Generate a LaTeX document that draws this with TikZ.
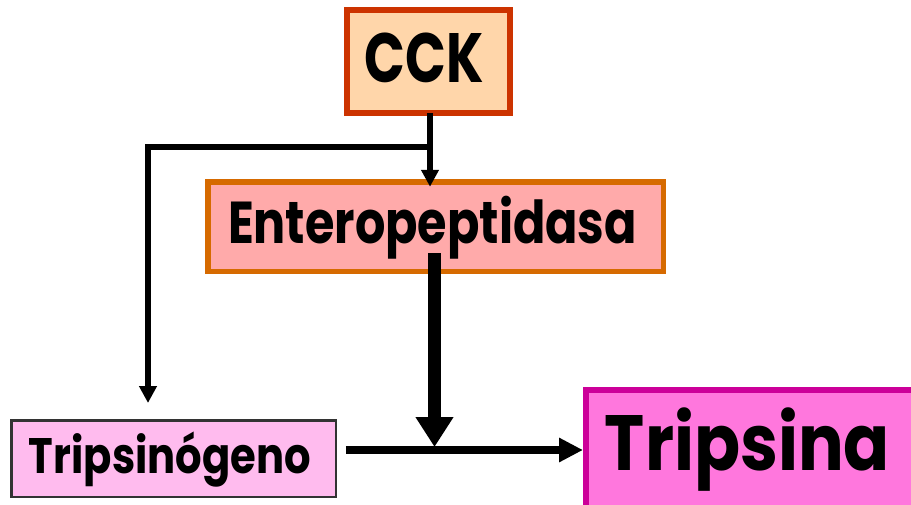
\documentclass[tikz,border=0pt]{standalone}
\usepackage{fontspec}
\usepackage{graphicx}
\usetikzlibrary{arrows.meta,calc}
\setmainfont{Poppins}

% Scale a label so that its ink width and cap height hit given sizes
\newcommand\fittext[3]{\resizebox{#1}{#2}{\smash{#3}\vphantom{T}}}

\definecolor{cckline}{HTML}{CC3300}
\definecolor{cckfill}{HTML}{FFD6AA}
\definecolor{entline}{HTML}{D66A00}
\definecolor{entfill}{HTML}{FFAAAA}
\definecolor{tsgline}{HTML}{333333}
\definecolor{tsgfill}{HTML}{FFBBEE}
\definecolor{tpsline}{HTML}{CC0099}
\definecolor{tpsfill}{HTML}{FF77DD}

\tikzset{
  box/.style={rectangle, inner sep=0pt, outer sep=0pt},
  label/.style={inner sep=0pt, outer sep=0pt, anchor=base, font=\bfseries},
  thinarrow/.style={line width=6pt, -{Triangle[length=17pt, width=17pt]}},
  mainarrow/.style={line width=12.5pt, -{Triangle[length=30pt, width=36pt]}},
  sidearrow/.style={line width=7.5pt, -{Triangle[length=24pt, width=23pt]}},
}

\begin{document}
\begin{tikzpicture}[x=1pt, y=-1pt]
  \useasboundingbox (0,0) rectangle (911,504);
  \clip (0,0) rectangle (911,504);

  % boxes
  \node[box, draw=cckline, fill=cckfill, line width=6pt,
        minimum width=163pt, minimum height=103pt] (cck) at (428.5,61.5) {};
  \node[box, draw=entline, fill=entfill, line width=5.5pt,
        minimum width=455.5pt, minimum height=89.5pt] (ent) at (435.5,226.5) {};
  \node[box, draw=tsgline, fill=tsgfill, line width=2.5pt,
        minimum width=324.5pt, minimum height=76.5pt] (tsg) at (173.5,458.5) {};
  \node[box, draw=tpsline, fill=tpsfill, line width=6pt,
        minimum width=329pt, minimum height=120pt] (tps) at (750.5,450) {};

  % labels
  \node[label] (cck-text) at (424.5,82) {\fittext{119pt}{49pt}{CCK}};
  \node[label] (ent-text) at (432.5,243) {\fittext{409pt}{41.5pt}{Enteropeptidasa}};
  \node[label] (tsg-text) at (170,473) {\fittext{282pt}{35pt}{Tripsinógeno}};
  \node[label] (tps-text) at (747.5,470) {\fittext{285pt}{55pt}{Tripsina}};

  % routing points
  \coordinate (fork) at (430,147);
  \coordinate (tsg-in) at (148,403);
  \coordinate (join) at (434.5,450);

  % CCK acts on the enzyme and on the zymogen
  \draw[thinarrow] (cck.south -| fork) -- ($(ent.north -| fork)+(0,5)$);
  \draw[thinarrow, line join=miter] (fork) -- (fork -| tsg-in) -- (tsg-in);

  % enteropeptidase drives the activation
  \draw[mainarrow] ($(ent.south -| join)+(0,-18)$) -- ($(join)+(0,-3)$);
  \draw[sidearrow] ($(tsg.east |- join)+(10,0)$) -- ($(tps.west |- join)+(-3,0)$);
\end{tikzpicture}
\end{document}
